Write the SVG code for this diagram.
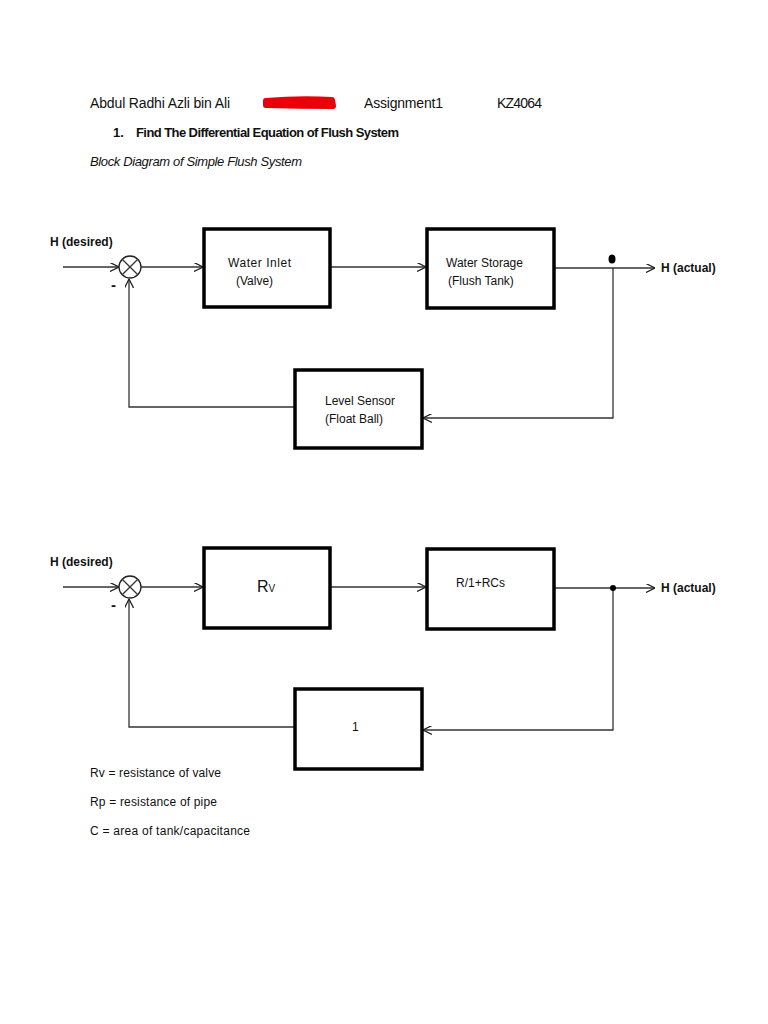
<svg xmlns="http://www.w3.org/2000/svg" width="768" height="1024" viewBox="0 0 768 1024">
<style>
text{font-family:"Liberation Sans",Arial,sans-serif;fill:#111}
.hd{font-size:14px}
.b{font-weight:bold}
.lbl{font-size:12px}
.box{fill:#fff;stroke:#000;stroke-width:3.5}
.ln{fill:none;stroke:#333;stroke-width:1.3}
.sum{fill:#fff;stroke:#222;stroke-width:1.3}
.minus{font-size:15px;font-weight:bold}
</style>
<defs>
<marker id="ar" viewBox="0 0 10 10" refX="10" refY="5" markerWidth="9" markerHeight="9" markerUnits="userSpaceOnUse" orient="auto">
<path d="M0,0 L10,5 L0,10" fill="none" stroke="#222" stroke-width="1.4"/>
</marker>
</defs>
<rect width="768" height="1024" fill="#fff"/>
<g id="header">
<text class="hd" x="90" y="108" textLength="140">Abdul Radhi Azli bin Ali</text>
<path d="M266,101 Q300,98 332,100 L333,106 Q300,106 266,105 Z" fill="#e8000b" stroke="#e8000b" stroke-width="6" stroke-linejoin="round"/>
<text class="hd" x="364" y="108" textLength="79">Assignment1</text>
<text class="hd" x="497" y="108" textLength="45">KZ4064</text>
<text class="b" x="113" y="137" font-size="13">1.</text>
<text class="b" x="136" y="137" textLength="263" font-size="13">Find The Differential Equation of Flush System</text>
<text x="90" y="166" font-style="italic" textLength="212" font-size="13">Block Diagram of Simple Flush System</text>
</g>
<g id="connectors1">
<line class="ln" x1="63" y1="267" x2="119" y2="267" marker-end="url(#ar)"/>
<line class="ln" x1="141" y1="267" x2="203" y2="267" marker-end="url(#ar)"/>
<line class="ln" x1="330" y1="267" x2="426" y2="267" marker-end="url(#ar)"/>
<line class="ln" x1="554" y1="268" x2="655" y2="268" marker-end="url(#ar)"/>
<polyline class="ln" points="613,268 613,418 423,418" marker-end="url(#ar)"/>
<polyline class="ln" points="295,407 129,407 129,279" marker-end="url(#ar)"/>
<ellipse cx="612" cy="259" rx="3.5" ry="4.5" fill="#000"/>
</g>
<g id="sum1">
<circle class="sum" cx="130" cy="267" r="11"/>
<path class="ln" d="M122.2,259.2 L137.8,274.8 M137.8,259.2 L122.2,274.8"/>
<text class="minus" x="111" y="290">-</text>
</g>
<g id="labels1">
<text class="lbl b" x="50" y="246">H (desired)</text>
<text class="lbl b" x="661" y="272">H (actual)</text>
</g>
<g id="water-inlet">
<rect class="box" x="204" y="229" width="126" height="78"/>
<text class="lbl" x="228" y="267" textLength="63">Water Inlet</text>
<text class="lbl" x="236" y="285">(Valve)</text>
</g>
<g id="water-storage">
<rect class="box" x="427" y="229" width="127" height="79"/>
<text class="lbl" x="446" y="267">Water Storage</text>
<text class="lbl" x="448" y="285">(Flush Tank)</text>
</g>
<g id="level-sensor">
<rect class="box" x="295" y="370" width="127" height="78"/>
<text class="lbl" x="325" y="405">Level Sensor</text>
<text class="lbl" x="325" y="423">(Float Ball)</text>
</g>
<g id="connectors2">
<line class="ln" x1="63" y1="587" x2="119" y2="587" marker-end="url(#ar)"/>
<line class="ln" x1="141" y1="587" x2="203" y2="587" marker-end="url(#ar)"/>
<line class="ln" x1="330" y1="587" x2="426" y2="587" marker-end="url(#ar)"/>
<line class="ln" x1="554" y1="588" x2="655" y2="588" marker-end="url(#ar)"/>
<polyline class="ln" points="613,588 613,730 423,730" marker-end="url(#ar)"/>
<polyline class="ln" points="295,727 129,727 129,599" marker-end="url(#ar)"/>
<circle cx="613" cy="588" r="3" fill="#000"/>
</g>
<g id="sum2">
<circle class="sum" cx="130" cy="587" r="11"/>
<path class="ln" d="M122.2,579.2 L137.8,594.8 M137.8,579.2 L122.2,594.8"/>
<text class="minus" x="111" y="610">-</text>
</g>
<g id="labels2">
<text class="lbl b" x="50" y="566">H (desired)</text>
<text class="lbl b" x="661" y="592">H (actual)</text>
</g>
<g id="rv">
<rect class="box" x="204" y="548" width="126" height="80"/>
<text x="257" y="592" font-size="16">R<tspan font-size="10">V</tspan></text>
</g>
<g id="tank-tf">
<rect class="box" x="427" y="549" width="127" height="80"/>
<text class="lbl" x="456" y="587">R/1+RCs</text>
</g>
<g id="unity">
<rect class="box" x="295" y="689" width="127" height="80"/>
<text class="lbl" x="352" y="731">1</text>
</g>
<g id="legend">
<text class="lbl" x="90" y="777" textLength="131">Rv = resistance of valve</text>
<text class="lbl" x="90" y="806" textLength="127">Rp = resistance of pipe</text>
<text class="lbl" x="90" y="835" textLength="160">C = area of tank/capacitance</text>
</g>
</svg>
